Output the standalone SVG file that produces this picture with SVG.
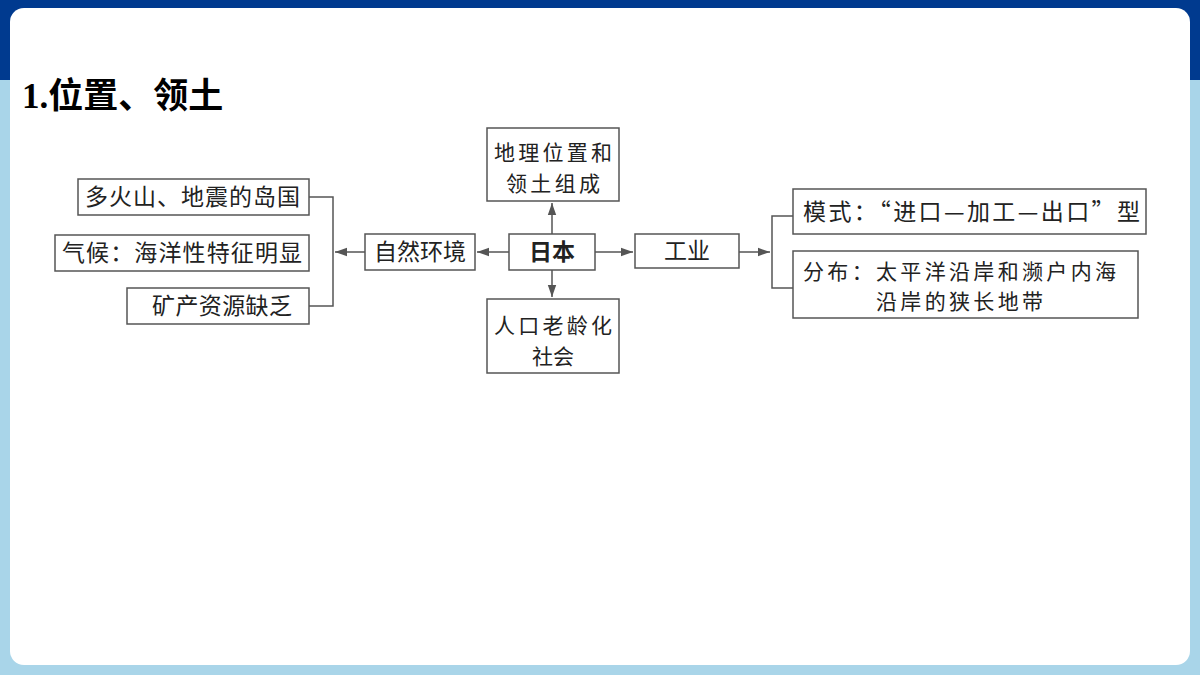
<svg xmlns="http://www.w3.org/2000/svg" width="1200" height="675" viewBox="0 0 1200 675">
<defs>
<style>
.b{fill:#fff;stroke:#555;stroke-width:1.5}
.t{font-family:"Noto Sans CJK SC",sans-serif;font-size:23px;fill:#222}
.s{font-size:21px}
.c{fill:none;stroke:#555;stroke-width:1.5}
</style>
<marker id="a" viewBox="0 0 10 10" refX="10" refY="5" markerWidth="8" markerHeight="8" orient="auto"><path d="M0,1.5L10,5L0,8.5z" fill="#555"/></marker>
</defs>
<rect width="1200" height="675" fill="#a9d5e9"/>
<rect width="1200" height="80" fill="#003a8f"/>
<rect x="10" y="8" width="1180" height="657" rx="14" fill="#fff"/>
<text x="22" y="108" font-family="Liberation Serif,'Noto Sans CJK SC',serif" font-size="35" font-weight="bold" fill="#000">1.位置、领土</text>
<g id="connectors">
<path class="c" d="M309,197H333V306H309"/>
<path class="c" d="M365,252H335" marker-end="url(#a)"/>
<path class="c" d="M509,252H477" marker-end="url(#a)"/>
<path class="c" d="M552,234V203" marker-end="url(#a)"/>
<path class="c" d="M552,270V297" marker-end="url(#a)"/>
<path class="c" d="M595,252H633" marker-end="url(#a)"/>
<path class="c" d="M739,252H770" marker-end="url(#a)"/>
<path class="c" d="M793,216H772V288H793"/>
</g>
<g id="n1"><rect class="b" x="78" y="179" width="231" height="36"/><text class="t" x="85" y="205" textLength="215">多火山、地震的岛国</text></g>
<g id="n2"><rect class="b" x="55" y="235" width="254" height="36"/><text class="t" x="62" y="261" textLength="240">气候：海洋性特征明显</text></g>
<g id="n3"><rect class="b" x="127" y="288" width="182" height="36"/><text class="t" x="152" y="314" textLength="140">矿产资源缺乏</text></g>
<g id="n4"><rect class="b" x="365" y="234" width="110" height="36"/><text class="t" x="420" y="260" text-anchor="middle">自然环境</text></g>
<g id="n5"><rect class="b" x="509" y="234" width="86" height="36"/><text class="t" x="552" y="260" text-anchor="middle" font-weight="bold" fill="#000">日本</text></g>
<g id="n6"><rect class="b" x="487" y="128" width="132" height="73"/><text class="t s" x="553" y="160" text-anchor="middle" textLength="118">地理位置和</text><text class="t s" x="553" y="191" text-anchor="middle" textLength="94">领土组成</text></g>
<g id="n7"><rect class="b" x="487" y="299" width="132" height="74"/><text class="t s" x="553" y="333" text-anchor="middle" textLength="118">人口老龄化</text><text class="t s" x="553" y="364" text-anchor="middle">社会</text></g>
<g id="n8"><rect class="b" x="635" y="234" width="104" height="34"/><text class="t" x="687" y="259" text-anchor="middle">工业</text></g>
<g id="n9"><rect class="b" x="793" y="189" width="353" height="45"/><text class="t" x="803" y="220" textLength="337">模式：“进口—加工—出口”型</text></g>
<g id="n10"><rect class="b" x="793" y="251" width="345" height="67"/><text class="t s" x="803" y="279" textLength="313">分布：太平洋沿岸和濒户内海</text><text class="t s" x="876" y="309" textLength="167">沿岸的狭长地带</text></g>
</svg>
